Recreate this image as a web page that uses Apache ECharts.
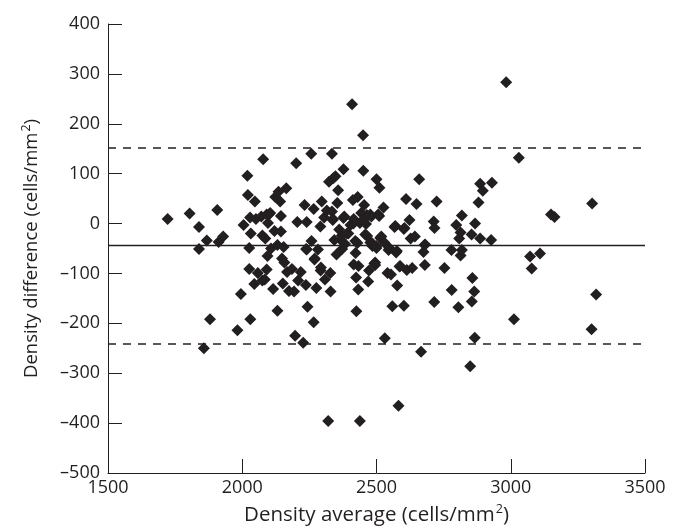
<!DOCTYPE html>
<html lang="en">
<head>
    <meta charset="UTF-8"/>
    <script src="https://cdn.jsdelivr.net/npm/echarts@6/dist/echarts.min.js"></script>
    <title>Density difference vs density average</title>
</head>
<body style="margin:0;background:#fff">
<div id="main" style="width:684px;height:531px;"></div>
<script type="text/javascript">
    // density average (cells/mm2), one entry per eye
    var densityAvg = [
        1722, 1804, 1839, 1839, 1868, 1880, 1857, 1907, 1912, 1929,
        1982, 1995, 2005, 2019, 2021, 2029, 2030, 2026, 2026, 2032,
        2047, 2045, 2051, 2058, 2071, 2075, 2075, 2078, 2084, 2086,
        2091, 2091, 2094, 2096, 2099, 2104, 2107, 2115, 2120, 2123,
        2131, 2131, 2135, 2141, 2144, 2144, 2148, 2151, 2157, 2154,
        2164, 2167, 2174, 2185, 2193, 2197, 2201, 2205, 2208, 2218,
        2227, 2232, 2237, 2240, 2240, 2243, 2257, 2258, 2266, 2266,
        2269, 2276, 2282, 2291, 2292, 2296, 2305, 2308, 2315, 2320,
        2323, 2328, 2329, 2334, 2334, 2338, 2339, 2343, 2347, 2351,
        2354, 2357, 2361, 2367, 2372, 2377, 2380, 2383, 2395, 2403,
        2409, 2412, 2415, 2422, 2424, 2425, 2429, 2430, 2432, 2433,
        2438, 2438, 2450, 2451, 2454, 2458, 2461, 2464, 2469, 2472,
        2477, 2481, 2485, 2492, 2495, 2500, 2500, 2506, 2511, 2518,
        2526, 2529, 2531, 2541, 2545, 2554, 2559, 2567, 2573, 2577,
        2582, 2586, 2602, 2602, 2610, 2613, 2623, 2627, 2633, 2643,
        2649, 2659, 2666, 2675, 2679, 2680, 2713, 2716, 2715, 2724,
        2753, 2779, 2780, 2797, 2805, 2808, 2813, 2813, 2818, 2818,
        2849, 2854, 2857, 2855, 2864, 2866, 2867, 2880, 2886, 2886,
        2896, 2930, 2927, 2983, 3012, 3030, 3072, 3078, 3109, 3150,
        3163, 3303, 3301, 3318,
        2337, 2377, 2414, 2443, 2454, 2477, 2510, 2570, 2604, 2371,
        2390, 2421, 2465, 2483, 2499, 2514, 2548, 2576, 2238, 2270,
        2415, 2495, 2588, 2681, 2293
    ];
    // density difference between the two counts (cells/mm2)
    var densityDiff = [
        9, 20, -7, -51, -34, -192, -250, 27, -37, -26,
        -214, -141, -3, 96, 57, 12, -192, -49, -91, -20,
        44, -121, 9, -99, 14, -24, -114, 129, -112, -30,
        18, -92, -65, 1, 18, 21, -50, -131, -15, 53,
        -175, -43, 64, 44, 15, -16, -70, -120, -78, -47,
        71, -97, -135, -91, -136, -225, 121, 3, -114, -97,
        -239, 37, -123, 3, -52, -167, 140, -35, -198, 29,
        -72, -129, -52, -6, -94, 44, 12, -112, 26, -396,
        84, -99, -136, 140, 24, 9, 91, -33, 95, -62,
        41, 67, -12, -33, -51, 109, 14, -41, -20, -3,
        239, 47, 9, -59, -108, -176, -39, 53, -132, -85,
        1, -396, 177, 106, 37, -22, -1, 17, -116, -94,
        -38, 14, -45, -80, -83, 89, -49, 18, 72, -26,
        32, -38, -230, -99, -53, -102, -166, -7, -58, -124,
        -365, -86, -11, -165, 49, -93, 7, -30, -89, -26,
        39, 89, -257, -57, -43, -83, 4, -9, -157, 44,
        -89, -53, -133, -3, -168, -30, -18, -64, 16, -53,
        -286, -22, -109, -156, -136, -229, 0, 42, 80, -30,
        66, 82, -33, 283, -192, 132, -66, -90, -60, 18,
        13, 40, -212, -142,
        7, 11, 0, 21, 8, 18, 15, -5, -9, -24,
        -20, -35, -25, -39, -45, -29, -49, -55, -51, -70,
        -82, -78, -85, -42, -88
    ];
    // mean difference and 95% limits of agreement
    var meanDiff = -43;
    var upperLimit = 151;
    var lowerLimit = -240;

    var xTicks = [1500, 3500, 500];   // min, max, interval
    var yTicks = [-500, 400, 100];

    var ink = '#231f20';
    var font = 'Open Sans';

    var points = [];
    for (var i = 0; i < densityAvg.length; i++) {
        points.push([densityAvg[i], densityDiff[i]]);
    }

    var myChart = echarts.init(document.getElementById('main'));

    function titleRich(size) {
        return {
            t: { fontSize: size, color: ink, fontFamily: font, lineHeight: 24 },
            s: { fontSize: 12.5, color: ink, fontFamily: font, lineHeight: 24, verticalAlign: 'top', padding: [0, 0, 0, 1] }
        };
    }

    var option = {
        animation: false,
        textStyle: { fontFamily: font, color: ink },
        grid: { left: 108, right: 39, top: 24, bottom: 58 },
        xAxis: {
            type: 'value',
            min: xTicks[0], max: xTicks[1], interval: xTicks[2],
            splitLine: { show: false },
            axisLine: { onZero: false, lineStyle: { color: ink, width: 1 } },
            axisTick: { inside: true, length: 14, lineStyle: { color: ink } },
            axisLabel: {
                fontSize: 18, color: ink, fontFamily: font, margin: 6,
                formatter: function (v) { return String(v); }
            },
            name: '{t|Density average (cells/mm}{s|2}{t|)}',
            nameLocation: 'middle',
            nameGap: 30,
            nameTextStyle: { rich: titleRich(20.5) }
        },
        yAxis: {
            type: 'value',
            min: yTicks[0], max: yTicks[1], interval: yTicks[2],
            splitLine: { show: false },
            axisLine: { show: true, onZero: false, lineStyle: { color: ink, width: 1 } },
            axisTick: { show: true, inside: true, length: 14, lineStyle: { color: ink } },
            axisLabel: {
                fontSize: 18, color: ink, fontFamily: font, margin: 8,
                formatter: function (v) { return String(v).replace('-', '\u2013'); }
            },
            name: '{t|Density difference (cells/mm}{s|2}{t|)}',
            nameLocation: 'middle',
            nameGap: 64,
            nameTextStyle: { rich: titleRich(18.5) }
        },
        series: [{
            type: 'scatter',
            symbol: 'diamond',
            symbolSize: 12,
            itemStyle: { color: ink, opacity: 1 },
            data: points,
            markLine: {
                silent: true,
                symbol: 'none',
                label: { show: false },
                data: [
                    { yAxis: upperLimit, lineStyle: { type: [8, 7], color: ink, width: 1.5 } },
                    { yAxis: meanDiff, lineStyle: { type: 'solid', color: ink, width: 1.3 } },
                    { yAxis: lowerLimit, lineStyle: { type: [8, 7], color: ink, width: 1.5 } }
                ]
            }
        }]
    };

    myChart.setOption(option);
</script>
</body>
</html>
